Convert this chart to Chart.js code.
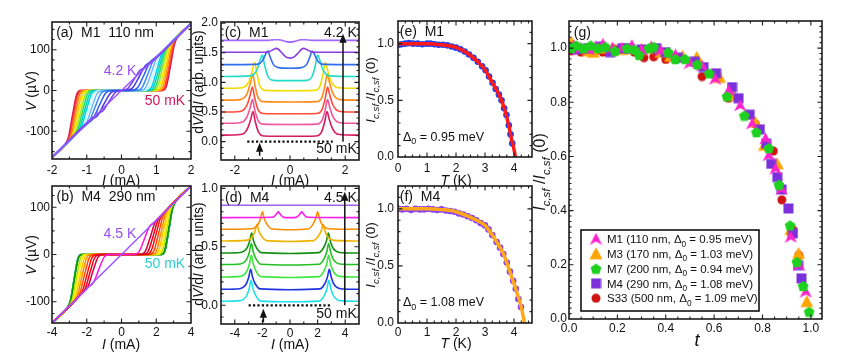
<!DOCTYPE html>
<html>
<head>
<meta charset="utf-8">
<script src="https://cdn.jsdelivr.net/npm/chart.js@4.4.1/dist/chart.umd.min.js"></script>
<style>
  html, body { margin:0; padding:0; background:#fff; }
  #wrap { position:relative; width:859px; height:361px; overflow:hidden; }
  #wrap canvas { position:absolute; left:0; top:0; }
</style>
</head>
<body>
<div id="wrap">
  <canvas id="pa" width="859" height="361"></canvas>
  <canvas id="pb" width="859" height="361"></canvas>
  <canvas id="pc" width="859" height="361"></canvas>
  <canvas id="pd" width="859" height="361"></canvas>
  <canvas id="pe" width="859" height="361"></canvas>
  <canvas id="pf" width="859" height="361"></canvas>
  <canvas id="pg" width="859" height="361"></canvas>
</div>
<script>
// ---------- data ----------
// (a) M1 110 nm, V(I) from 50 mK (first) to 4.2 K (last); positive branch, V(-I) = -V(I)
const aColors = ['#d6105a','#f5204a','#ff4d26','#ff8a10','#ffc000','#eef000','#98e830','#30d860','#00d8b0',
                 '#00d0f0','#c8f4ff','#70b8ff','#3a8cff','#2a5cf5','#4a3ce8','#7040f0','#9d55ff'];
const aCurves = [
  [[0,0],[1.18,0],[1.295,10.8],[1.41,60.5],[1.525,114],[1.64,134.5],[2,164]],
  [[0,0],[1.16,0],[1.275,10.6],[1.39,59.8],[1.505,113],[1.62,132.8],[2,164]],
  [[0,0],[1.13,0],[1.248,10.5],[1.365,59],[1.483,111.5],[1.60,131.2],[2,164]],
  [[0,0],[1.08,0],[1.203,10.3],[1.325,57.9],[1.448,109.4],[1.57,128.7],[2,164]],
  [[0,0],[1.02,0],[1.148,10.0],[1.275,56.5],[1.403,106.6],[1.53,125.5],[2,164]],
  [[0,0],[0.96,0],[1.093,9.8],[1.225,55],[1.358,103.9],[1.49,122.2],[2,164]],
  [[0,0],[0.90,0],[1.038,9.5],[1.175,53.5],[1.313,101],[1.45,118.9],[2,164]],
  [[0,0],[0.84,0],[0.98,9.2],[1.12,51.7],[1.26,97.6],[1.40,114.8],[2,164]],
  [[0,0],[0.78,0],[0.923,8.9],[1.065,49.8],[1.208,94.1],[1.35,110.7],[2,164]],
  [[0,0],[0.72,0],[0.865,8.5],[1.01,48],[1.155,90.6],[1.30,106.6],[2,164]],
  [[0,0],[0.64,0],[0.79,8.1],[0.94,45.8],[1.09,86.5],[1.24,101.7],[2,164]],
  [[0,0],[0.54,0],[0.70,7.7],[0.86,43.5],[1.02,82.3],[1.18,96.8],[2,164]],
  [[0,0],[0.42,0],[0.59,7.2],[0.76,40.6],[0.93,76.7],[1.10,90.2],[2,164]],
  [[0,0],[0.28,0],[0.46,6.6],[0.64,36.9],[0.82,69.7],[1.00,82],[2,164]],
  [[0,0],[0.12,0],[0.31,5.8],[0.50,32.5],[0.69,61.3],[0.88,72.2],[2,164]],
  [[0,0],[0.175,4.6],[0.35,25.8],[0.525,48.8],[0.70,57.4],[2,164]],
  [[0,0],[2,164]]
];

// (b) M4 290 nm, 50 mK -> 4.5 K
const bColors = ['#19d9e6','#2438e0','#44e044','#1cb81c','#0a960a','#b8e000','#fff000','#ffc400',
                 '#ff8c00','#ff4a00','#ff0a0a','#e8001e','#d8003a','#ff14e0','#9d55ff'];
const bCurves = [
  [[0,0],[2.30,0],[2.5125,9.1],[2.725,51.4],[2.9375,97.1],[3.15,114.2],[4,145]],
  [[0,0],[2.30,0],[2.5125,9.1],[2.725,51.4],[2.9375,97.1],[3.15,114.2],[4,145]],
  [[0,0],[2.30,0],[2.5125,9.1],[2.725,51.4],[2.9375,97.1],[3.15,114.2],[4,145]],
  [[0,0],[2.29,0],[2.5025,9.1],[2.715,51.2],[2.9275,96.7],[3.14,113.8],[4,145]],
  [[0,0],[2.27,0],[2.485,9.1],[2.70,51.1],[2.915,96.4],[3.13,113.5],[4,145]],
  [[0,0],[2.14,0],[2.368,8.8],[2.595,49.8],[2.823,94.0],[3.05,110.6],[4,145]],
  [[0,0],[2.03,0],[2.265,8.6],[2.50,48.5],[2.735,91.5],[2.97,107.7],[4,145]],
  [[0,0],[1.90,0],[2.145,8.4],[2.39,47.0],[2.635,88.7],[2.88,104.4],[4,145]],
  [[0,0],[1.76,0],[2.015,8.1],[2.27,45.3],[2.525,85.7],[2.78,100.8],[4,145]],
  [[0,0],[1.60,0],[1.865,7.7],[2.13,43.4],[2.395,82.0],[2.66,96.4],[4,145]],
  [[0,0],[1.43,0],[1.703,7.3],[1.975,41.1],[2.248,77.6],[2.52,91.4],[4,145]],
  [[0,0],[1.26,0],[1.54,6.9],[1.82,38.8],[2.10,73.3],[2.38,86.3],[4,145]],
  [[0,0],[1.08,0],[1.365,6.4],[1.65,36.2],[1.935,68.4],[2.22,80.5],[4,145]],
  [[0,0],[0.70,0],[1.0,5.5],[1.3,31.0],[1.6,58.5],[1.9,68.9],[4,145]],
  [[0,0],[4,145]]
];

// (c) M1 dV/dI traces (offset), bottom 50 mK -> top 4.2 K; symmetric in I
const cColors = ['#d81b60','#f2559b','#ff4a3a','#ff8a1c','#f2dc00','#22dcc8','#2f6cf0','#8a3ce0','#a366ff'];
const cTraces = [
  [[0,.09],[0.94,.095],[1.14,.16],[1.26,.34],[1.34,.51],[1.42,.38],[1.52,.24],[1.64,.15],[1.79,.12],[2.5,.11]],
  [[0,.29],[0.96,.295],[1.16,.36],[1.28,.54],[1.36,.71],[1.44,.58],[1.54,.44],[1.66,.35],[1.81,.32],[2.5,.31]],
  [[0,.47],[0.96,.475],[1.16,.54],[1.28,.74],[1.36,.92],[1.44,.79],[1.54,.635],[1.66,.545],[1.81,.51],[2.5,.50]],
  [[0,.67],[0.95,.675],[1.15,.74],[1.27,.95],[1.35,1.14],[1.43,1.0],[1.53,.84],[1.65,.745],[1.8,.71],[2.5,.70]],
  [[0,.86],[0.88,.865],[1.08,.93],[1.2,1.15],[1.28,1.34],[1.36,1.21],[1.46,1.04],[1.58,.95],[1.73,.91],[2.5,.90]],
  [[0,1.03],[0.6,1.035],[0.8,1.1],[0.92,1.29],[1.0,1.46],[1.08,1.38],[1.18,1.23],[1.3,1.14],[1.45,1.11],[2.5,1.10]],
  [[0,1.24],[0.42,1.25],[0.6,1.3],[0.72,1.43],[0.8,1.53],[0.88,1.48],[0.98,1.38],[1.1,1.32],[1.25,1.305],[2.5,1.30]],
  [[0,1.41],[0.15,1.43],[0.3,1.5],[0.42,1.56],[0.5,1.575],[0.6,1.555],[0.75,1.52],[0.95,1.51],[2.5,1.51]],
  [[0,1.68],[0.15,1.69],[0.4,1.72],[0.55,1.72],[0.8,1.71],[2.5,1.71]]
];

// (d) M4 dV/dI traces, bottom 50 mK -> top 4.5 K
const dColors = ['#1ee0e8','#1f35e0','#3ee83e','#22c022','#139013','#f0b400','#ff8c00','#ff1ee6','#a060f0'];
const dTraces = [
  [[0,.03],[2.12,.036],[2.47,.08],[2.68,.142],[2.82,.214],[2.96,.142],[3.12,.088],[3.32,.056],[3.62,.04],[5,.034]],
  [[0,.133],[2.15,.14],[2.5,.18],[2.71,.24],[2.85,.307],[2.99,.24],[3.15,.188],[3.35,.157],[3.65,.142],[5,.137]],
  [[0,.238],[2.1,.245],[2.45,.29],[2.66,.353],[2.8,.427],[2.94,.353],[3.1,.298],[3.3,.264],[3.6,.247],[5,.242]],
  [[0,.344],[2.1,.351],[2.45,.395],[2.66,.456],[2.8,.528],[2.94,.456],[3.1,.402],[3.3,.37],[3.6,.353],[5,.348]],
  [[0,.443],[2.08,.45],[2.43,.492],[2.64,.549],[2.78,.617],[2.92,.549],[3.08,.498],[3.28,.467],[3.58,.452],[5,.447]],
  [[0,.546],[1.7,.553],[2.05,.59],[2.26,.634],[2.4,.69],[2.54,.634],[2.7,.592],[2.9,.567],[3.2,.555],[5,.55]],
  [[0,.646],[1.3,.653],[1.65,.69],[1.86,.74],[2.0,.80],[2.14,.74],[2.3,.695],[2.5,.668],[2.8,.655],[5,.65]],
  [[0,.75],[0.45,.752],[0.65,.77],[0.77,.79],[0.85,.80],[0.93,.79],[1.05,.77],[1.25,.753],[5,.75]],
  [[0,.855],[5,.855]]
];

// (e) M1 Ic,sf(T)/Ic,sf(0) and fit
const eT = [0.02,0.12,0.25,0.38,0.52,0.68,0.84,1.0,1.12,1.26,1.4,1.55,1.7,1.85,2.0,2.15,2.3,2.45,2.6,2.75,2.9,3.02,3.14,3.26,3.37,3.48,3.57,3.66,3.74,3.82,3.88,3.94];
const eV = [0.99,0.995,1.0,1.005,1.0,1.0,0.995,1.0,1.0,0.995,0.99,0.99,0.985,0.975,0.965,0.95,0.93,0.905,0.875,0.84,0.8,0.765,0.71,0.655,0.6,0.55,0.5,0.43,0.37,0.28,0.2,0.12];
const eFitT = [0,1,1.5,1.97,2.2,2.48,2.8,3.0,3.2,3.4,3.57,3.7,3.83,3.92,3.98,4.05,4.08];
const eFitV = [1,1,0.99,0.97,0.945,0.9,0.83,0.77,0.68,0.59,0.5,0.4,0.265,0.15,0.09,0,-0.05];

// (f) M4
const fT = [0.02,0.15,0.3,0.45,0.6,0.75,0.9,1.05,1.2,1.35,1.5,1.65,1.8,1.95,2.1,2.25,2.4,2.55,2.7,2.85,3.0,3.12,3.25,3.4,3.52,3.63,3.75,3.86,3.97,4.06,4.15,4.24];
const fV = [1.0,0.995,1.0,0.99,1.0,0.995,0.995,1.0,0.995,0.99,0.995,0.985,0.98,0.975,0.96,0.95,0.935,0.92,0.9,0.875,0.855,0.82,0.77,0.71,0.66,0.605,0.53,0.45,0.37,0.3,0.21,0.14];
const fFitT = [0,1,1.5,1.97,2.48,2.75,3.0,3.2,3.4,3.63,3.86,4.09,4.26,4.36,4.4];
const fFitV = [1,1,0.993,0.977,0.928,0.895,0.855,0.79,0.71,0.608,0.448,0.273,0.128,0,-0.05];

// (g) all samples vs reduced temperature t
const gM1T = [0.0,0.02,0.05,0.08,0.11,0.14,0.18,0.22,0.26,0.30,0.34,0.38,0.44,0.50,0.55,0.604,0.66,0.708,0.757,0.8125,0.826,0.854,0.879,0.917,0.951,0.979];
const gM1V = [0.995,1.01,1.0,0.995,1.005,1.015,1.0,1.0,1.01,0.995,1.005,0.99,0.975,0.944,0.935,0.886,0.843,0.788,0.721,0.666,0.604,0.555,0.48,0.303,0.199,0.1];
const gM3T = [0.01,0.04,0.08,0.10,0.14,0.18,0.22,0.26,0.30,0.34,0.38,0.42,0.47,0.528,0.622,0.68,0.77,0.808,0.861,0.917,0.949,0.983];
const gM3V = [1.02,1.0,0.99,0.985,1.0,1.0,0.995,1.0,0.995,1.0,0.985,0.97,0.97,0.966,0.892,0.825,0.727,0.641,0.573,0.33,0.242,0.064];
const gM7T = [0.01,0.03,0.06,0.09,0.12,0.15,0.19,0.24,0.27,0.29,0.33,0.35,0.41,0.44,0.48,0.53,0.58,0.653,0.725,0.775,0.826,0.868,0.914,0.942,0.968,0.993];
const gM7V = [1.0,1.01,1.0,1.01,1.0,1.005,0.99,1.0,0.995,0.975,1.0,1.005,0.985,0.96,0.96,0.94,0.907,0.822,0.751,0.69,0.631,0.496,0.346,0.211,0.122,0.027];
const gM4T = [0.0,0.03,0.08,0.13,0.17,0.22,0.25,0.30,0.36,0.40,0.45,0.52,0.556,0.608,0.674,0.701,0.747,0.789,0.815,0.836,0.861,0.879,0.907,0.926,0.947,0.961];
const gM4V = [1.0,0.995,1.0,1.005,0.985,1.0,1.0,0.995,1.0,0.985,0.965,0.95,0.93,0.907,0.856,0.815,0.754,0.70,0.647,0.573,0.524,0.478,0.408,0.316,0.199,0.15];
const gS33T = [0.01,0.05,0.11,0.14,0.19,0.27,0.31,0.35,0.40,0.44,0.55,0.66,0.77,0.845,0.88,0.925,0.95];
const gS33V = [0.99,0.985,0.99,0.985,0.995,0.985,0.965,0.968,0.958,0.958,0.895,0.815,0.72,0.62,0.44,0.33,0.235];
const gNames = ['M1 (110 nm, ', 'M3 (170 nm, ', 'M7 (200 nm, ', 'M4 (290 nm, ', 'S33 (500 nm, '];
const gGaps = ['0.95', '1.03', '0.94', '1.08', '1.09'];
const gColors = ['#ff22cc', '#ffa500', '#1fd11f', '#7b30dc', '#d01414'];

// ---------- helpers ----------
const W = 859, H = 361;
const FONT = '"Liberation Sans", Arial, Helvetica, sans-serif';
const odd = p => [...p.slice(1).reverse().map(([x, y]) => ({x: -x, y: -y})), ...p.map(([x, y]) => ({x, y}))];
const even = p => [...p.slice(1).reverse().map(([x, y]) => ({x: -x, y})), ...p.map(([x, y]) => ({x, y}))];
const zip = (xs, ys) => xs.map((x, i) => ({x, y: ys[i]}));
const line = (data, color, w) => ({data, borderColor: color, borderWidth: w, showLine: true, pointRadius: 0,
  cubicInterpolationMode: 'monotone', fill: false});
const dots = (data, color, r) => ({data, showLine: false, pointRadius: r, pointBackgroundColor: color,
  pointBorderColor: color, pointBorderWidth: 0});

function marker(shape, color, size) {
  const cv = document.createElement('canvas');
  cv.width = cv.height = size;
  const g = cv.getContext('2d'), r = size / 2;
  g.fillStyle = color;
  g.beginPath();
  if (shape === 'circle') g.arc(r, r, r - 0.5, 0, Math.PI * 2);
  else if (shape === 'square') g.rect(0.5, 0.5, size - 1, size - 1);
  else if (shape === 'triangle') { g.moveTo(r, 0.5); g.lineTo(size - 0.5, size - 1.5); g.lineTo(0.5, size - 1.5); }
  else if (shape === 'arrow') { g.moveTo(r, 0.3); g.lineTo(size - 0.3, size - 0.5); g.lineTo(r, size * 0.7); g.lineTo(0.3, size - 0.5); }
  else if (shape === 'pentagon') {
    for (let k = 0; k < 5; k++) {
      const an = -Math.PI / 2 + k * 2 * Math.PI / 5;
      g.lineTo(r + (r - 0.3) * Math.cos(an), r + 0.6 + (r - 0.3) * Math.sin(an));
    }
  }
  g.closePath();
  g.fill();
  return cv;
}
const gMarkers = [marker('arrow', gColors[0], 13), marker('triangle', gColors[1], 14), marker('pentagon', gColors[2], 12),
                  marker('square', gColors[3], 11), marker('circle', gColors[4], 10)];

// rich text: segs = [[text, flags]], flags: i = italic, s = subscript
function rich(ctx, segs, x, y, size, align, color, rot) {
  ctx.save();
  ctx.translate(x, y);
  if (rot) ctx.rotate(rot);
  ctx.fillStyle = color || '#111';
  ctx.textBaseline = 'alphabetic';
  ctx.textAlign = 'left';
  const fnt = f => (f.includes('i') ? 'italic ' : '') + (f.includes('s') ? size * 0.72 : size) + 'px ' + FONT;
  let w = 0;
  for (const [t, f] of segs) { ctx.font = fnt(f); w += ctx.measureText(t).width; }
  let cx = align === 'left' ? 0 : align === 'right' ? -w : -w / 2;
  for (const [t, f] of segs) {
    ctx.font = fnt(f);
    ctx.fillText(t, cx, size * 0.36 + (f.includes('s') ? size * 0.3 : 0));
    cx += ctx.measureText(t).width;
  }
  ctx.restore();
}

const TI = [['I', 'i'], [' (mA)', '']];
const TIC = [['I', 'i'], ['c,sf', 'is'], [' /', ''], ['I', 'i'], ['c,sf', 'is'], [' (0)', '']];
const TDV = [['d', ''], ['V', 'i'], ['/d', ''], ['I', 'i'], [' (arb. units)', '']];
const TT = [['T', 'i'], [' (K)', '']];
const plain = s => [[s, '']];
const gap = v => [['\u0394', ''], ['0', 's'], [' = ' + v + ' meV', '']];

function tickSet(min, max, step) {
  const out = [];
  for (let v = Math.ceil(min / step - 1e-9) * step; v <= max + 1e-9; v += step) out.push(+v.toFixed(6));
  return out;
}

const cfgs = {};
const panelPlugin = {
  id: 'panel',
  beforeDraw(chart) {
    const a = chart.chartArea, ctx = chart.ctx;
    ctx.save(); ctx.fillStyle = '#fff'; ctx.fillRect(a.left, a.top, a.right - a.left, a.bottom - a.top); ctx.restore();
  },
  afterDatasetsDraw(chart) {
    const c = cfgs[chart.canvas.id], ctx = chart.ctx, a = chart.chartArea;
    const xs = chart.scales.x, ys = chart.scales.y;
    const px = v => xs.getPixelForValue(v), py = v => ys.getPixelForValue(v);
    ctx.save();
    ctx.strokeStyle = '#111'; ctx.fillStyle = '#111';
    (c.dotted || []).forEach(d => {
      ctx.setLineDash([2.2, 2.2]); ctx.lineWidth = 2.2;
      ctx.beginPath(); ctx.moveTo(px(d[0]), py(d[2])); ctx.lineTo(px(d[1]), py(d[2])); ctx.stroke();
    });
    ctx.setLineDash([]);
    (c.arrows || []).forEach(d => {
      const x = px(d[0]), y0 = py(d[1]), y1 = py(d[2]);
      ctx.lineWidth = 1.5;
      ctx.beginPath(); ctx.moveTo(x, y0); ctx.lineTo(x, y1 + 6); ctx.stroke();
      ctx.beginPath(); ctx.moveTo(x, y1); ctx.lineTo(x - 3.6, y1 + 9); ctx.lineTo(x + 3.6, y1 + 9); ctx.closePath(); ctx.fill();
    });
    // frame
    ctx.strokeStyle = '#1c1c1c'; ctx.lineWidth = 1.6;
    ctx.strokeRect(a.left, a.top, a.right - a.left, a.bottom - a.top);
    // inward ticks on all four sides
    ctx.lineWidth = 1.1;
    const drawX = (vals, len) => vals.forEach(v => {
      const x = px(v); if (x < a.left + 1 || x > a.right - 1) return;
      ctx.beginPath(); ctx.moveTo(x, a.bottom); ctx.lineTo(x, a.bottom - len);
      ctx.moveTo(x, a.top); ctx.lineTo(x, a.top + len); ctx.stroke();
    });
    const drawY = (vals, len) => vals.forEach(v => {
      const y = py(v); if (y < a.top + 1 || y > a.bottom - 1) return;
      ctx.beginPath(); ctx.moveTo(a.left, y); ctx.lineTo(a.left + len, y);
      ctx.moveTo(a.right, y); ctx.lineTo(a.right - len, y); ctx.stroke();
    });
    drawX(c.x.ticks, 4.5); drawY(c.y.ticks, 4.5);
    drawX(tickSet(c.x.min, c.x.max, c.x.minor).filter(v => !c.x.ticks.some(t => Math.abs(t - v) < 1e-6)), 2.5);
    drawY(tickSet(c.y.min, c.y.max, c.y.minor).filter(v => !c.y.ticks.some(t => Math.abs(t - v) < 1e-6)), 2.5);
    // in-plot notes (data coordinates)
    (c.notes || []).forEach(n => rich(ctx, n.segs, px(n.x), py(n.y), n.size, n.align, n.color));
    ctx.restore();
  },
  afterDraw(chart) {
    const c = cfgs[chart.canvas.id], ctx = chart.ctx;
    (c.titles || []).forEach(t => rich(ctx, t.segs, t.x, t.y, t.size, 'center', '#111', t.rot));
    if (c.legend) {
      const L = c.legend;
      ctx.save();
      ctx.fillStyle = '#fff'; ctx.fillRect(L.left, L.top, L.right - L.left, L.bottom - L.top);
      ctx.strokeStyle = '#111'; ctx.lineWidth = 1.6; ctx.strokeRect(L.left, L.top, L.right - L.left, L.bottom - L.top);
      gNames.forEach((nm, i) => {
        const y = L.first + i * L.step, m = gMarkers[i];
        ctx.drawImage(m, L.mx - m.width / 2, y - m.height / 2);
        rich(ctx, [[nm + '\u0394', ''], ['0', 's'], [' = ' + gGaps[i] + ' meV)', '']], L.tx, y, 11.5, 'left', '#111');
      });
      ctx.restore();
    }
  }
};

function axis(o, dir, size) {
  return {
    type: 'linear', position: dir === 'x' ? 'bottom' : 'left', min: o.min, max: o.max,
    grid: {display: false, drawTicks: false}, border: {display: false},
    ticks: {font: {family: FONT, size: o.font || 12}, color: '#111', padding: o.pad, maxRotation: 0, autoSkip: false,
      callback: (v, i) => o.labels[i]},
    afterBuildTicks: s => { s.ticks = o.ticks.map(v => ({value: v})); },
    afterFit: s => { if (dir === 'x') s.height = size; else s.width = size; }
  };
}

function panel(id, c) {
  cfgs[id] = c;
  const yw = 40, xh = 30;
  new Chart(document.getElementById(id), {
    type: 'scatter',
    data: {datasets: c.datasets},
    options: {
      responsive: false, animation: false, devicePixelRatio: 1, events: [],
      layout: {padding: {left: c.box[0] - yw, top: c.box[1], right: W - c.box[2], bottom: H - c.box[3] - xh}},
      plugins: {legend: {display: false}, tooltip: {enabled: false}},
      scales: {x: axis(c.x, 'x', xh), y: axis(c.y, 'y', yw)}
    },
    plugins: [panelPlugin]
  });
}

// ---------- panels ----------
const R90 = -Math.PI / 2;
const PURPLE = '#9a4cf0';

panel('pa', {
  box: [52, 22, 191, 159],
  x: {min: -2, max: 2, ticks: [-2, -1, 0, 1, 2], labels: ['-2', '-1', '0', '1', '2'], minor: 0.5, pad: 4},
  y: {min: -168, max: 168, ticks: [-100, 0, 100], labels: ['-100', '0', '100'], minor: 25, pad: 2},
  datasets: aCurves.map((p, i) => line(odd(p), aColors[i], 1.5)).reverse(),
  notes: [
    {x: -1.88, y: 144, segs: plain('(a)  M1  110 nm'), size: 14, align: 'left', color: '#111'},
    {x: -0.04, y: 51, segs: plain('4.2 K'), size: 14, align: 'center', color: PURPLE},
    {x: 1.25, y: -23, segs: plain('50 mK'), size: 14, align: 'center', color: '#d4145a'}
  ],
  titles: [
    {x: 31, y: 91, segs: [['V', 'i'], [' (\u00b5V)', '']], size: 14, rot: R90},
    {x: 121, y: 180, segs: TI, size: 14}
  ]
});

panel('pb', {
  box: [52, 186, 191, 323],
  x: {min: -4, max: 4, ticks: [-4, -2, 0, 2, 4], labels: ['-4', '-2', '0', '2', '4'], minor: 1, pad: 2},
  y: {min: -145, max: 145, ticks: [-100, 0, 100], labels: ['-100', '0', '100'], minor: 25, pad: 2},
  datasets: bCurves.map((p, i) => line(odd(p), bColors[i], 1.5)).reverse(),
  notes: [
    {x: -3.74, y: 124, segs: plain('(b)  M4  290 nm'), size: 14, align: 'left', color: '#111'},
    {x: -0.09, y: 45.5, segs: plain('4.5 K'), size: 14, align: 'center', color: PURPLE},
    {x: 2.5, y: -18, segs: plain('50 mK'), size: 14, align: 'center', color: '#2ad0d0'}
  ],
  titles: [
    {x: 31, y: 255, segs: [['V', 'i'], [' (\u00b5V)', '']], size: 14, rot: R90},
    {x: 121, y: 344, segs: TI, size: 14}
  ]
});

panel('pc', {
  box: [221, 22, 359, 160],
  x: {min: -2.5, max: 2.5, ticks: [-2, 0, 2], labels: ['-2', '0', '2'], minor: 0.5, pad: 3},
  y: {min: -0.31, max: 2.02, ticks: [0, 0.5, 1, 1.5, 2], labels: ['0.0', '0.5', '1.0', '1.5', '2.0'], minor: 0.1, pad: 3},
  datasets: cTraces.map((p, i) => line(even(p), cColors[i], 1.6)).reverse(),
  dotted: [[-1.55, 1.55, 0]],
  arrows: [[1.92, 0.0, 1.82], [-1.1, -0.24, -0.02]],
  notes: [
    {x: -2.36, y: 1.85, segs: plain('(c)  M1'), size: 14, align: 'left', color: '#111'},
    {x: 2.42, y: 1.85, segs: plain('4.2 K'), size: 14, align: 'right', color: '#111'},
    {x: 2.42, y: -0.11, segs: plain('50 mK'), size: 14, align: 'right', color: '#111'}
  ],
  titles: [
    {x: 198, y: 82, segs: TDV, size: 14, rot: R90},
    {x: 290, y: 180, segs: TI, size: 14}
  ]
});

panel('pd', {
  box: [221, 186, 359, 324],
  x: {min: -5, max: 5, ticks: [-4, -2, 0, 2, 4], labels: ['-4', '-2', '0', '2', '4'], minor: 1, pad: 2},
  y: {min: -0.16, max: 1.02, ticks: [0, 0.5, 1], labels: ['0.0', '0.5', '1.0'], minor: 0.1, pad: 3},
  datasets: dTraces.map((p, i) => line(even(p), dColors[i], 1.6)).reverse(),
  dotted: [[-3.0, 2.9, 0]],
  arrows: [[3.97, 0.0, 0.97], [-1.93, -0.145, -0.03]],
  notes: [
    {x: -4.71, y: 0.93, segs: plain('(d)  M4'), size: 14, align: 'left', color: '#111'},
    {x: 4.84, y: 0.93, segs: plain('4.5 K'), size: 14, align: 'right', color: '#111'},
    {x: 4.84, y: -0.065, segs: plain('50 mK'), size: 14, align: 'right', color: '#111'}
  ],
  titles: [
    {x: 198, y: 254, segs: TDV, size: 14, rot: R90},
    {x: 290, y: 344, segs: TI, size: 14}
  ]
});

panel('pe', {
  box: [398, 21, 532, 157],
  x: {min: 0, max: 4.62, ticks: [0, 1, 2, 3, 4], labels: ['0', '1', '2', '3', '4'], minor: 0.25, pad: 4},
  y: {min: 0, max: 1.2, ticks: [0, 0.5, 1], labels: ['0.0', '0.5', '1.0'], minor: 0.1, pad: 4},
  datasets: [line(zip(eFitT, eFitV), '#ff1a1a', 3.5), dots(zip(eT, eV), '#2040f0', 3.3)],
  notes: [
    {x: 0.06, y: 1.11, segs: plain('(e)  M1'), size: 14, align: 'left', color: '#111'},
    {x: 0.17, y: 0.185, segs: gap('0.95'), size: 12.5, align: 'left', color: '#111'}
  ],
  titles: [
    {x: 370, y: 90, segs: TIC, size: 13.5, rot: R90},
    {x: 456, y: 180, segs: TT, size: 14}
  ]
});

panel('pf', {
  box: [398, 186, 532, 323],
  x: {min: 0, max: 4.62, ticks: [0, 1, 2, 3, 4], labels: ['0', '1', '2', '3', '4'], minor: 0.25, pad: 2},
  y: {min: 0, max: 1.2, ticks: [0, 0.5, 1], labels: ['0.0', '0.5', '1.0'], minor: 0.1, pad: 4},
  datasets: [line(zip(fFitT, fFitV), '#ffa81c', 3.5), dots(zip(fT, fV), '#8a3ff0', 3.3)],
  notes: [
    {x: 0.06, y: 1.11, segs: plain('(f)  M4'), size: 14, align: 'left', color: '#111'},
    {x: 0.17, y: 0.185, segs: gap('1.08'), size: 12.5, align: 'left', color: '#111'}
  ],
  titles: [
    {x: 370, y: 255, segs: TIC, size: 13.5, rot: R90},
    {x: 456, y: 343, segs: TT, size: 14}
  ]
});

const gSet = (t, v, i) => ({data: zip(t, v), showLine: false, pointStyle: gMarkers[i], pointRadius: 6});
panel('pg', {
  box: [569, 21, 822, 319],
  x: {min: 0, max: 1.046, ticks: [0, 0.2, 0.4, 0.6, 0.8, 1.0], labels: ['0.0', '0.2', '0.4', '0.6', '0.8', '1.0'], minor: 0.05, pad: 2},
  y: {min: 0, max: 1.1, ticks: [0, 0.2, 0.4, 0.6, 0.8, 1.0], labels: ['0.0', '0.2', '0.4', '0.6', '0.8', '1.0'], minor: 0.02, pad: 2},
  datasets: [gSet(gM7T, gM7V, 2), gSet(gM1T, gM1V, 0), gSet(gM4T, gM4V, 3), gSet(gM3T, gM3V, 1), gSet(gS33T, gS33V, 4)],
  notes: [{x: 0.02, y: 1.058, segs: plain('(g)'), size: 14, align: 'left', color: '#111'}],
  legend: {left: 581, top: 230, right: 759, bottom: 311, first: 239, step: 14.8, mx: 596, tx: 607},
  titles: [
    {x: 539, y: 172, segs: TIC, size: 16, rot: R90},
    {x: 697, y: 340, segs: [['t', 'i']], size: 18}
  ]
});
</script>
</body>
</html>
